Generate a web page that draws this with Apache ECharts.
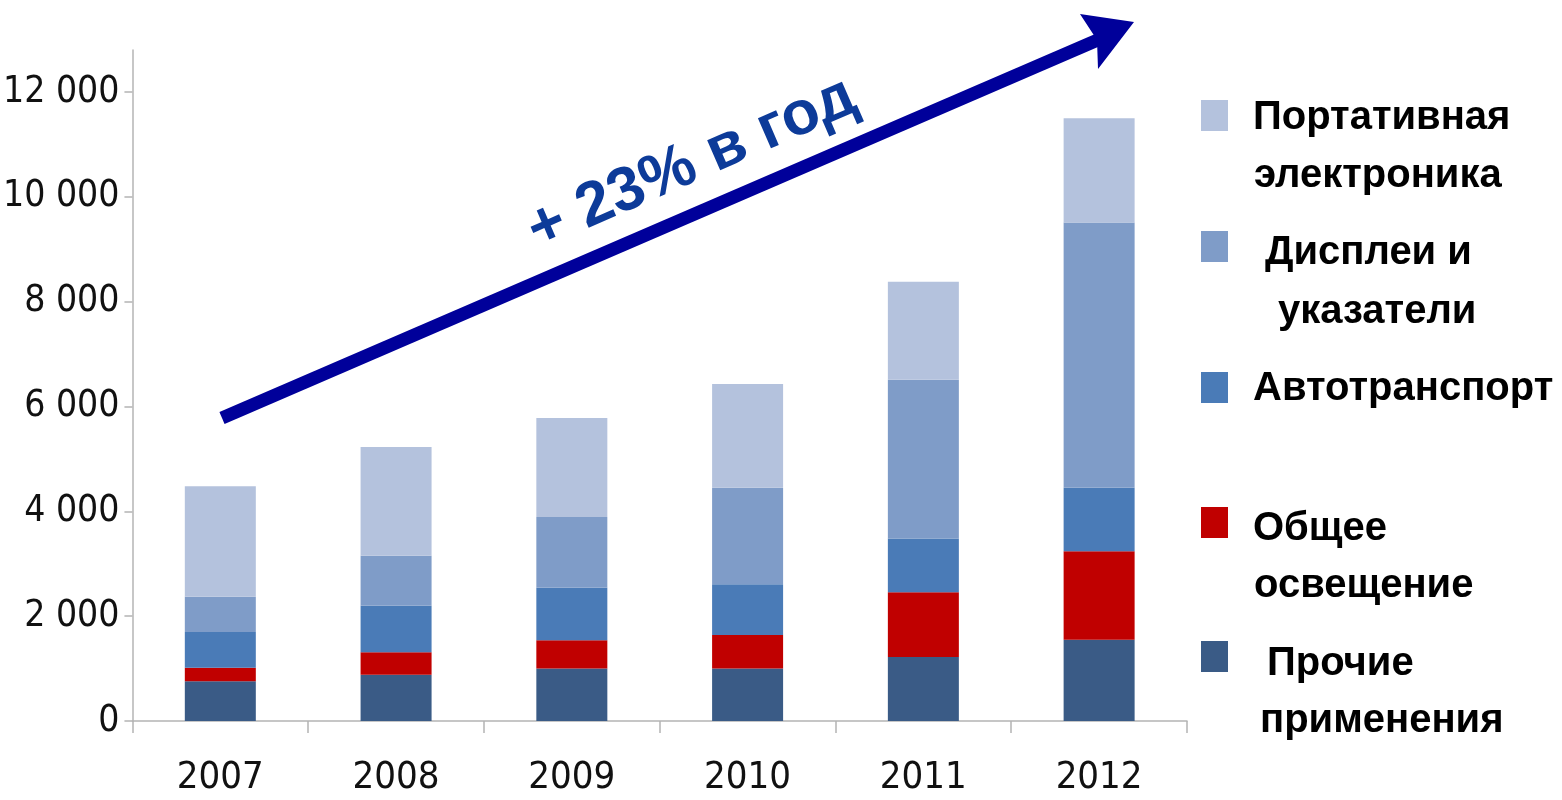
<!DOCTYPE html>
<html lang="ru">
<head>
    <meta charset="UTF-8">
    <title>Рынок светодиодов по применениям</title>
    <script type="text/javascript" src="https://cdn.jsdelivr.net/npm/echarts@6/dist/echarts.min.js"></script>
    <style>
        html, body { margin: 0; padding: 0; background: #fff; }
        #chart { width: 1562px; height: 800px; }
    </style>
</head>
<body>
<div id="chart"></div>
<script>
    // годы и значения по сегментам (снизу вверх)
    var years = ['2007', '2008', '2009', '2010', '2011', '2012'];
    var other = [760, 880, 1000, 1000, 1220, 1550];
    var lighting = [255, 430, 540, 640, 1235, 1690];
    var auto = [685, 890, 1000, 970, 1025, 1210];
    var displays = [670, 950, 1350, 1840, 3030, 5060];
    var portable = [2110, 2075, 1890, 1980, 1870, 1990];
    var yTicks = [0, 2000, 4000, 6000, 8000, 10000, 12000];

    var names = ['Прочие\nприменения', 'Общее\nосвещение', 'Автотранспорт', 'Дисплеи и\nуказатели', 'Портативная\nэлектроника'];
    var colors = ['#3a5b86', '#c00000', '#4a7bb7', '#7f9cc8', '#b4c2dd'];
    var values = [other, lighting, auto, displays, portable];

    var narrow = "'Liberation Sans Narrow', 'DejaVu Sans Condensed', 'Arial Narrow', sans-serif";

    var series = names.map(function (n, i) {
        return {
            name: n,
            type: 'bar',
            stack: 'total',
            barWidth: 71,
            itemStyle: { color: colors[i] },
            data: values[i]
        };
    });

    // легенда справа: квадрат + строки текста (порядок сверху вниз)
    var legendLayout = [
        { idx: 4, sq: 100, lines: [[1253, 118], [1254, 176]] },
        { idx: 3, sq: 231, lines: [[1265, 253], [1278, 312]] },
        { idx: 2, sq: 372, lines: [[1253, 389]] },
        { idx: 1, sq: 507, lines: [[1253, 529], [1254, 586]] },
        { idx: 0, sq: 641, lines: [[1267, 664], [1260, 721]] }
    ];
    var graphics = [];
    legendLayout.forEach(function (item) {
        graphics.push({
            type: 'rect',
            shape: { x: 1201, y: item.sq, width: 27, height: 31 },
            style: { fill: colors[item.idx] }
        });
        var parts = names[item.idx].split('\n');
        item.lines.forEach(function (p, k) {
            graphics.push({
                type: 'text',
                x: p[0], y: p[1],
                style: {
                    text: parts[k],
                    fill: '#000',
                    font: "bold 40px 'Liberation Sans', Arial, sans-serif",
                    verticalAlign: 'middle'
                }
            });
        });
    });

    // стрелка роста
    graphics.push({
        type: 'line',
        shape: { x1: 222, y1: 418, x2: 1100, y2: 39 },
        style: { stroke: '#00009a', lineWidth: 13 }
    });
    graphics.push({
        type: 'polygon',
        shape: { points: [[1134, 22], [1080, 14], [1097, 40], [1098, 69]] },
        style: { fill: '#00009a' }
    });
    graphics.push({
        type: 'text',
        x: 692, y: 164,
        rotation: 0.41,
        style: {
            text: '+ 23% в год',
            fill: '#0d3b99',
            font: "bold 62px 'Liberation Sans', Arial, sans-serif",
            align: 'center',
            verticalAlign: 'middle'
        }
    });

    var option = {
        animation: false,
        backgroundColor: '#fff',
        grid: { left: 131, right: 375, top: 50, bottom: 79 },
        xAxis: {
            type: 'category',
            data: years,
            axisLine: { lineStyle: { color: '#b4b4b4', width: 1.5 } },
            axisTick: { show: true, length: 12, lineStyle: { color: '#b4b4b4', width: 1.5 } },
            axisLabel: { color: '#111', fontSize: 38, fontFamily: narrow, margin: 38 }
        },
        yAxis: {
            type: 'value',
            min: 0,
            max: 12800,
            interval: 2000,
            splitLine: { show: false },
            axisLine: { show: true, lineStyle: { color: '#b4b4b4', width: 1.5 } },
            axisTick: { show: true, length: 8, customValues: yTicks, lineStyle: { color: '#b4b4b4', width: 1.5 } },
            axisLabel: {
                customValues: yTicks,
                color: '#111',
                fontSize: 37,
                fontFamily: narrow,
                margin: 13,
                formatter: function (v) {
                    return String(v).replace(/\B(?=(\d{3})+(?!\d))/g, ' ');
                }
            }
        },
        series: series,
        graphic: graphics
    };

    var myChart = echarts.init(document.getElementById('chart'));
    myChart.setOption(option);
</script>
</body>
</html>
